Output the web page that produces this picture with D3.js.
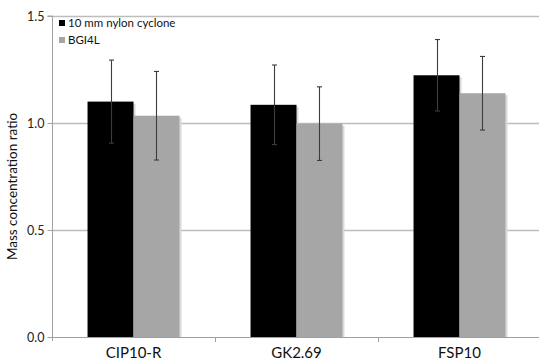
<!DOCTYPE html>
<html><head><meta charset="utf-8">
<script src="https://cdn.jsdelivr.net/npm/d3@7"></script>
<style>body{margin:0;background:#fff}svg{display:block}</style>
</head><body>
<svg id="c" width="539" height="360"></svg>
<script>
const categories = ["CIP10-R", "GK2.69", "FSP10"];
const seriesNames = ["10 mm nylon cyclone", "BGI4L"];
const seriesColors = ["#000000", "#a6a6a6"];
const cycloneValues = [1.10, 1.085, 1.223];
const cycloneErrors = [0.194, 0.186, 0.167];
const bgiValues = [1.034, 0.997, 1.139];
const bgiErrors = [0.207, 0.172, 0.172];
const yTicks = [0.0, 0.5, 1.0, 1.5];

const svg = d3.select("#c");
const font = "Lato, 'Open Sans', sans-serif";
const m = {left: 52, right: 541, top: 16, bottom: 337};

const x = d3.scaleBand().domain(categories).range([m.left, m.right]).padding(0);
const y = d3.scaleLinear().domain([0, 1.5]).range([m.bottom, m.top]);
const sub = d3.scaleBand().domain([0, 1]).range([x.bandwidth() * 0.218, x.bandwidth() * 0.782]).padding(0);

// gridlines
svg.append("g").selectAll("line").data(yTicks.filter(d => d > 0)).join("line")
  .attr("x1", m.left).attr("x2", m.right)
  .attr("y1", d => Math.round(y(d)) + 0.5).attr("y2", d => Math.round(y(d)) + 0.5)
  .attr("stroke", "#bdbdbd").attr("stroke-width", 1.3);

// y axis
const yAxis = d3.axisLeft(y).tickValues(yTicks).tickFormat(d3.format(".1f")).tickSize(5).tickPadding(3);
const gy = svg.append("g").attr("transform", `translate(${m.left + 0.5},0)`).call(yAxis);
gy.select(".domain").attr("stroke", "#a0a0a0").attr("d", `M-5,${y(1.5)}H0V${y(0) + 4}`);
gy.selectAll(".tick line").attr("stroke", "#a0a0a0");
gy.selectAll("text").attr("font-family", font).attr("font-size", 12.5).attr("fill", "#222");

// x axis
const xAxis = d3.axisBottom(x).tickSize(0).tickPadding(10);
const gx = svg.append("g").attr("transform", `translate(0,${Math.round(y(0)) + 0.5})`).call(xAxis);
gx.select(".domain").attr("stroke", "#a0a0a0").attr("d", `M${m.left},0H${m.right}`);
gx.selectAll("text").attr("font-family", font).attr("font-size", 15).attr("fill", "#111");
// category boundary ticks
svg.append("g").selectAll("line").data(categories.slice(1)).join("line")
  .attr("x1", d => Math.round(x(d)) + 0.5).attr("x2", d => Math.round(x(d)) + 0.5)
  .attr("y1", y(0)).attr("y2", y(0) + 5).attr("stroke", "#a0a0a0");

const rows = categories.map((c, i) => [
  {c, s: 0, v: cycloneValues[i], e: cycloneErrors[i]},
  {c, s: 1, v: bgiValues[i], e: bgiErrors[i]}
]).flat();

// shadows
svg.append("g").selectAll("rect").data(rows).join("rect")
  .attr("x", d => x(d.c) + sub(d.s) + 2).attr("y", d => y(d.v) + 2)
  .attr("width", sub.bandwidth()).attr("height", d => y(0) - y(d.v) - 2)
  .attr("fill", "#d9d9d9");
// bars
svg.append("g").selectAll("rect").data(rows).join("rect")
  .attr("x", d => x(d.c) + sub(d.s)).attr("y", d => y(d.v))
  .attr("width", sub.bandwidth()).attr("height", d => y(0) - y(d.v))
  .attr("fill", d => seriesColors[d.s]);

// error bars
const eg = svg.append("g").attr("stroke", "#3c3c3c").attr("stroke-width", 1.1);
rows.forEach(d => {
  const cx = Math.round(x(d.c) + sub(d.s) + sub.bandwidth() / 2) + 0.5;
  const y1 = y(d.v + d.e), y2 = y(d.v - d.e);
  eg.append("line").attr("x1", cx).attr("x2", cx).attr("y1", y1).attr("y2", y2);
  [y1, y2].forEach(yy => eg.append("line").attr("x1", cx - 2.5).attr("x2", cx + 2.5).attr("y1", yy).attr("y2", yy));
});

// y label
svg.append("text").attr("transform", `translate(17,${(y(0) + y(1.5)) / 2 + 10}) rotate(-90)`)
  .attr("text-anchor", "middle").attr("font-family", font).attr("font-size", 13.5).attr("fill", "#111")
  .text("Mass concentration ratio");

// legend
const lg = svg.append("g").attr("transform", "translate(59,20)");
seriesNames.forEach((n, i) => {
  lg.append("rect").attr("x", 0).attr("y", i * 17).attr("width", 6).attr("height", 6).attr("fill", seriesColors[i]);
  lg.append("text").attr("x", 9).attr("y", i * 17 + 6.5).attr("font-family", font).attr("font-size", 11.5)
    .attr("fill", "#111").text(n);
});
</script>
</body></html>
